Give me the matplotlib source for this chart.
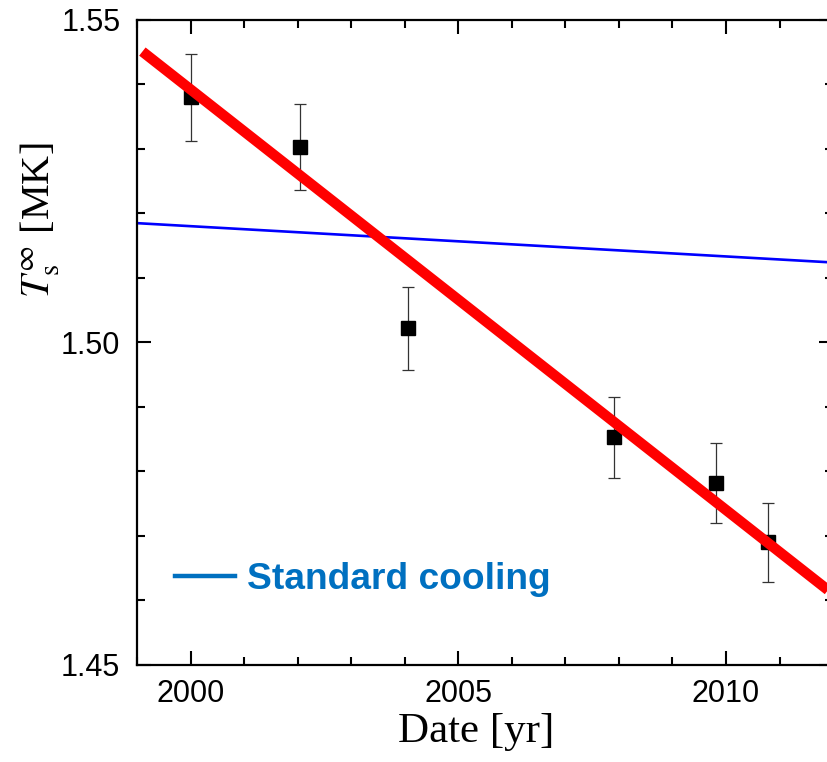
import matplotlib.pyplot as plt
from matplotlib.lines import Line2D
from matplotlib.ticker import MultipleLocator

# Measured surface temperatures
years = [2000.0, 2002.05, 2004.07, 2007.91, 2009.81, 2010.78]
temps = [1.5380, 1.5303, 1.5022, 1.4853, 1.4782, 1.4690]
errs = [0.0067, 0.0066, 0.0064, 0.0063, 0.0062, 0.0061]

# Linear fit (red) and standard cooling model (blue)
fit_x = [1999.1, 2012.0]
fit_y = [1.5451, 1.4610]
std_x = [1999.0, 2012.0]
std_y = [1.5185, 1.5124]

plt.rcParams['mathtext.fontset'] = 'stix'

fig = plt.figure(figsize=(8.28, 7.62), dpi=100)
ax = fig.add_axes([0.1655, 0.1273, 0.8406, 0.8465])

ax.plot(std_x, std_y, color='#0000FF', lw=1.9, zorder=2)
ax.errorbar(years, temps, yerr=errs, fmt='s', color='black', ms=9.5,
            ecolor='#333333', elinewidth=0.9, capsize=4.5, capthick=0.9, zorder=3)
ax.plot(fit_x, fit_y, color='#FF0000', lw=7.5, solid_capstyle='butt', zorder=4)

ax.set_xlim(1999, 2012)
ax.set_ylim(1.45, 1.55)
ax.xaxis.set_major_locator(MultipleLocator(5))
ax.xaxis.set_minor_locator(MultipleLocator(1))
ax.yaxis.set_major_locator(MultipleLocator(0.05))
ax.yaxis.set_minor_locator(MultipleLocator(0.01))
ax.yaxis.set_major_formatter(plt.FuncFormatter(lambda v, p: f'{v:.2f}'))

ax.tick_params(which='both', direction='in', top=True, right=True, width=1.5)
ax.tick_params(which='major', length=10)
ax.tick_params(which='minor', length=5.5)
ax.tick_params(axis='x', pad=10)
ax.tick_params(axis='y', pad=12)
for lab in ax.get_xticklabels() + ax.get_yticklabels():
    lab.set_fontfamily('Liberation Sans')
    lab.set_fontsize(22)
for sp in ax.spines.values():
    sp.set_linewidth(1.6)

ax.set_xlabel('Date [yr]', fontfamily='Liberation Serif', fontsize=31)
ax.xaxis.set_label_coords(0.487, -0.073)
ax.set_ylabel(r'$T_\mathrm{s}^{\infty}$ [MK]', fontfamily='Liberation Serif', fontsize=29)
ax.yaxis.set_label_coords(-0.108, 0.69)

handle = Line2D([], [], color='#0070C0', lw=3.2)
leg = ax.legend([handle], ['Standard cooling'], loc='center left',
                bbox_to_anchor=(0.055, 0.132), frameon=False, borderpad=0,
                borderaxespad=0, handlelength=1.6, handletextpad=0.33,
                prop={'family': 'Liberation Sans', 'weight': 'bold', 'size': 26.7})
for t in leg.get_texts():
    t.set_color('#0070C0')

fig.savefig('out.png', dpi=100)
